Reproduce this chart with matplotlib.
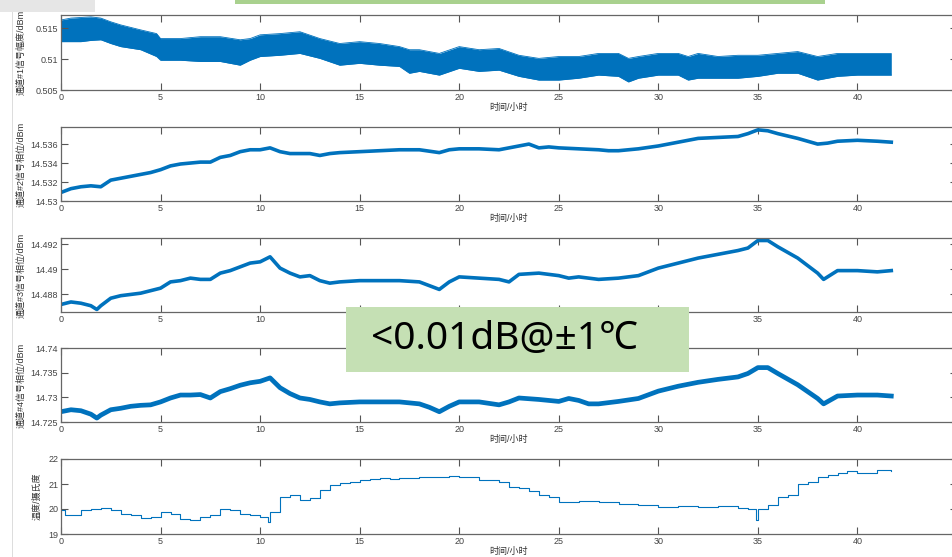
import matplotlib
matplotlib.use('Agg')
import matplotlib.pyplot as plt
from matplotlib.patches import Rectangle

plt.rcParams['font.family'] = ['Liberation Sans', 'Noto Sans CJK SC', 'DejaVu Sans']

# 通道1 幅度: 噪声带的上下包络
t1 = [0, 0.5, 1, 1.5, 2, 2.5, 3, 4, 4.8, 5,
      6, 7, 8, 9, 9.5, 10, 11, 12, 13, 14,
      15, 16, 17, 17.5, 18, 19, 20, 21, 22, 23,
      24, 25, 26, 27, 28, 28.5, 29, 30, 31, 31.5,
      32, 33, 34, 35, 36, 37, 38, 39, 40, 41, 41.7]
ch1_hi = [0.5163, 0.5166, 0.5167, 0.5168, 0.5166, 0.5160, 0.5155, 0.5147, 0.5141, 0.5133,
          0.5133, 0.5136, 0.5136, 0.5131, 0.5133, 0.5139, 0.5141, 0.5144, 0.5133, 0.5125,
          0.5128, 0.5125, 0.5120, 0.5115, 0.5115, 0.5109, 0.5120, 0.5115, 0.5117, 0.5106,
          0.5101, 0.5104, 0.5104, 0.5109, 0.5109, 0.5101, 0.5104, 0.5109, 0.5109, 0.5104,
          0.5109, 0.5104, 0.5106, 0.5106, 0.5109, 0.5112, 0.5104, 0.5109, 0.5109, 0.5109, 0.5109]
ch1_lo = [0.5128, 0.5128, 0.5128, 0.5130, 0.5131, 0.5125, 0.5120, 0.5115, 0.5104, 0.5098,
          0.5098, 0.5096, 0.5096, 0.5090, 0.5098, 0.5104, 0.5106, 0.5109, 0.5101, 0.5090,
          0.5093, 0.5090, 0.5088, 0.5077, 0.5080, 0.5074, 0.5085, 0.5080, 0.5082, 0.5072,
          0.5066, 0.5066, 0.5069, 0.5074, 0.5072, 0.5063, 0.5069, 0.5074, 0.5074, 0.5066,
          0.5069, 0.5069, 0.5069, 0.5072, 0.5077, 0.5077, 0.5066, 0.5072, 0.5074, 0.5074, 0.5074]

# 通道2 相位
t2 = [0, 0.5, 1, 1.5, 2, 2.5, 3, 3.5, 4, 4.5,
      5, 5.5, 6, 6.5, 7, 7.5, 8, 8.5, 9, 9.5,
      10, 10.5, 11, 11.5, 12, 12.5, 13, 13.5, 14, 15,
      16, 17, 18, 19, 19.5, 20, 21, 22, 23, 23.5,
      24, 24.5, 25, 26, 27, 27.5, 28, 29, 30, 31,
      32, 33, 34, 34.5, 35, 35.5, 36, 37, 38, 38.5,
      39, 40, 41, 41.7]
ch2 = [14.5309, 14.5313, 14.5315, 14.5316, 14.5315, 14.5322, 14.5324, 14.5326, 14.5328, 14.5330,
       14.5333, 14.5337, 14.5339, 14.5340, 14.5341, 14.5341, 14.5346, 14.5348, 14.5352, 14.5354,
       14.5354, 14.5356, 14.5352, 14.5350, 14.5350, 14.5350, 14.5348, 14.5350, 14.5351, 14.5352,
       14.5353, 14.5354, 14.5354, 14.5351, 14.5354, 14.5355, 14.5355, 14.5354, 14.5358, 14.5360,
       14.5356, 14.5357, 14.5356, 14.5355, 14.5354, 14.5353, 14.5353, 14.5355, 14.5358, 14.5362,
       14.5366, 14.5367, 14.5368, 14.5371, 14.5375, 14.5374, 14.5371, 14.5366, 14.5360, 14.5361,
       14.5363, 14.5364, 14.5363, 14.5362]

# 通道3 / 通道4 相位
t34 = [0, 0.5, 1, 1.5, 1.8, 2, 2.5, 3, 3.5, 4,
       4.5, 5, 5.5, 6, 6.5, 7, 7.5, 8, 8.5, 9,
       9.5, 10, 10.5, 11, 11.5, 12, 12.5, 13, 13.5, 14,
       15, 16, 17, 18, 18.5, 19, 19.5, 20, 21, 22,
       22.5, 23, 24, 25, 25.5, 26, 26.5, 27, 28, 29,
       30, 31, 32, 33, 34, 34.5, 35, 35.5, 36, 37,
       37.5, 38, 38.3, 39, 40, 41, 41.7]
ch3 = [14.4872, 14.4874, 14.4873, 14.4871, 14.4868, 14.4871, 14.4877, 14.4879, 14.4880, 14.4881,
       14.4883, 14.4885, 14.4890, 14.4891, 14.4893, 14.4892, 14.4892, 14.4897, 14.4899, 14.4902,
       14.4905, 14.4906, 14.4910, 14.4901, 14.4897, 14.4894, 14.4895, 14.4891, 14.4889, 14.4890,
       14.4891, 14.4891, 14.4891, 14.4890, 14.4887, 14.4884, 14.4890, 14.4894, 14.4893, 14.4892,
       14.4890, 14.4896, 14.4897, 14.4895, 14.4893, 14.4894, 14.4893, 14.4892, 14.4893, 14.4895,
       14.4901, 14.4905, 14.4909, 14.4912, 14.4915, 14.4917, 14.4923, 14.4923, 14.4918, 14.4909,
       14.4903, 14.4897, 14.4892, 14.4899, 14.4899, 14.4898, 14.4899]
ch4 = [14.7271, 14.7275, 14.7273, 14.7266, 14.7258, 14.7264, 14.7275, 14.7278, 14.7282, 14.7284,
       14.7285, 14.7291, 14.7299, 14.7305, 14.7305, 14.7306, 14.7299, 14.7312, 14.7318, 14.7325,
       14.7330, 14.7333, 14.7340, 14.7320, 14.7308, 14.7299, 14.7296, 14.7291, 14.7287, 14.7289,
       14.7291, 14.7291, 14.7291, 14.7287, 14.7280, 14.7271, 14.7282, 14.7291, 14.7291, 14.7285,
       14.7291, 14.7299, 14.7296, 14.7292, 14.7298, 14.7294, 14.7287, 14.7287, 14.7292, 14.7298,
       14.7313, 14.7323, 14.7331, 14.7337, 14.7342, 14.7349, 14.7361, 14.7361, 14.7349, 14.7326,
       14.7312, 14.7298, 14.7287, 14.7303, 14.7305, 14.7305, 14.7303]

# 温度
t5 = [0, 0.2, 0.5, 1, 1.5, 2, 2.5, 3, 3.5, 4,
      4.5, 5, 5.5, 6, 6.5, 7, 7.5, 8, 8.5, 9,
      9.5, 10, 10.4, 10.5, 11, 11.5, 12, 12.5, 13, 13.5,
      14, 14.5, 15, 15.5, 16, 16.5, 17, 17.5, 18, 18.5,
      19, 19.5, 20, 20.5, 21, 21.5, 22, 22.5, 23, 23.5,
      24, 24.5, 25, 25.5, 26, 27, 28, 29, 30, 31,
      32, 33, 34, 34.5, 34.9, 35, 35.5, 36, 36.5, 37,
      37.5, 38, 38.5, 39, 39.5, 40, 40.5, 41, 41.7]
temp = [19.96, 19.75, 19.78, 19.96, 20.02, 20.05, 19.96, 19.82, 19.75, 19.65,
        19.69, 19.89, 19.82, 19.59, 19.55, 19.69, 19.75, 20.02, 19.96, 19.82,
        19.75, 19.69, 19.50, 19.89, 20.49, 20.56, 20.36, 20.43, 20.76, 20.96,
        21.03, 21.10, 21.17, 21.21, 21.23, 21.19, 21.23, 21.26, 21.30, 21.27,
        21.30, 21.33, 21.30, 21.27, 21.15, 21.17, 21.10, 20.90, 20.83, 20.72,
        20.56, 20.49, 20.27, 20.29, 20.32, 20.29, 20.22, 20.16, 20.09, 20.13,
        20.09, 20.12, 20.05, 20.00, 19.55, 20.02, 20.16, 20.49, 20.56, 20.99,
        21.10, 21.30, 21.37, 21.44, 21.53, 21.44, 21.44, 21.57, 21.53]

ylabels = ['通道#1信号幅度/dBm', '通道#2信号相位/dBm', '通道#3信号相位/dBm',
           '通道#4信号相位/dBm', '温度/摄氏度']
yticks = [[0.505, 0.51, 0.515],
          [14.53, 14.532, 14.534, 14.536],
          [14.488, 14.49, 14.492],
          [14.725, 14.73, 14.735, 14.74],
          [19, 20, 21, 22]]
ytick_labels = [['0.505', '0.51', '0.515'],
                ['14.53', '14.532', '14.534', '14.536'],
                ['14.488', '14.49', '14.492'],
                ['14.725', '14.73', '14.735', '14.74'],
                ['19', '20', '21', '22']]
ylims = [(0.505, 0.5171), (14.53, 14.5378), (14.4866, 14.4925), (14.725, 14.7401), (19, 22)]

BLUE = '#0072BD'
W, H = 953, 557


def px_box(left, top, right, bottom):
    # пиксели -> доли фигуры
    return [left / W, 1 - bottom / H, (right - left) / W, (bottom - top) / H]


fig = plt.figure(figsize=(W / 100, H / 100), dpi=100)
fig.patch.set_facecolor('white')

boxes = [(15, 90), (127, 201), (238, 312), (348, 422), (459, 534)]
label_x = [-0.040, -0.040, -0.040, -0.040, -0.022]
axes = []
for i, (top, bottom) in enumerate(boxes):
    ax = fig.add_axes(px_box(61, top, 957, bottom))
    ax.set_xlim(0, 45)
    ax.set_xticks(range(0, 46, 5))
    ax.set_ylim(*ylims[i])
    ax.set_yticks(yticks[i])
    ax.set_yticklabels(ytick_labels[i])
    ax.tick_params(direction='in', top=True, right=True, length=5, width=0.8,
                   color='#555555', labelcolor='#444444', labelsize=6.5, pad=2)
    for s in ax.spines.values():
        s.set_color('#666666')
        s.set_linewidth(0.9)
    ax.set_xlabel('时间/小时', fontsize=6.5, color='#333333', labelpad=1)
    ax.set_ylabel(ylabels[i], fontsize=6.5, color='#333333')
    ax.yaxis.set_label_coords(label_x[i], 0.5)
    axes.append(ax)

# 幅度: 噪声带
axes[0].fill_between(t1, ch1_lo, ch1_hi, color=BLUE, lw=0)
axes[0].plot(t1, ch1_hi, color=BLUE, lw=0.6)
axes[0].plot(t1, ch1_lo, color=BLUE, lw=0.6)

axes[1].plot(t2, ch2, color=BLUE, lw=2.6)
axes[2].plot(t34, ch3, color=BLUE, lw=2.6)
axes[3].plot(t34, ch4, color=BLUE, lw=3.4)
axes[4].step(t5, temp, where='post', color=BLUE, lw=0.8)

# наложения со скриншота
fig.add_artist(Rectangle((0, 1 - 12 / H), 95 / W, 12 / H, transform=fig.transFigure,
                         facecolor='#e6e6e6', edgecolor='none', zorder=5))
fig.add_artist(Rectangle((235 / W, 1 - 4 / H), 590 / W, 4 / H, transform=fig.transFigure,
                         facecolor='#a9d18e', edgecolor='none', zorder=5))
fig.add_artist(Rectangle((12 / W, 0), 1 / W, 1 - 12 / H, transform=fig.transFigure,
                         facecolor='#dddddd', edgecolor='none', zorder=5))

b = px_box(346, 307, 689, 372)
fig.add_artist(Rectangle((b[0], b[1]), b[2], b[3], transform=fig.transFigure,
                         facecolor='#c5e0b4', edgecolor='none', zorder=5))
fig.text(504 / W, 1 - 339 / H, '<0.01dB@±1℃', fontsize=28, color='black',
         ha='center', va='center', zorder=6,
         family=['Noto Sans', 'Noto Sans CJK SC', 'DejaVu Sans'])

fig.savefig('out.png', dpi=100)
